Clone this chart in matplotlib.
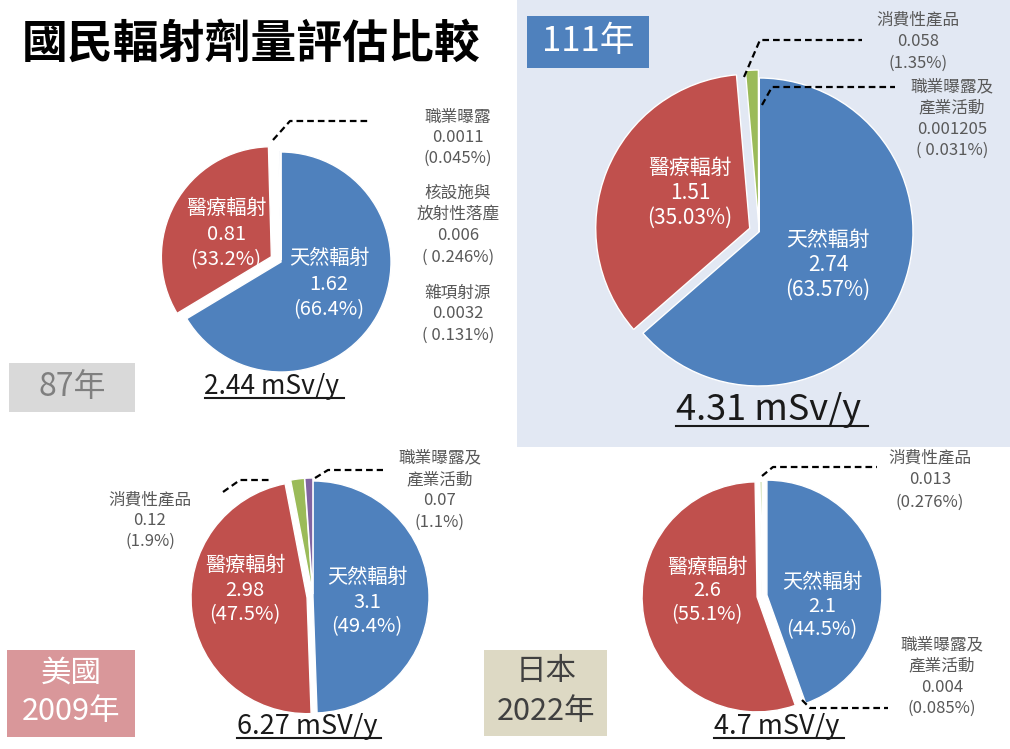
import matplotlib
matplotlib.use("Agg")
import matplotlib.pyplot as plt
from matplotlib.patches import Rectangle

plt.rcParams['font.family'] = ['Noto Sans CJK TC', 'DejaVu Sans']

W, H = 1010, 749

# data ------------------------------------------------------------
title = "國民輻射劑量評估比較"

# 87年 (Taiwan)
tw87_names = ["天然輻射", "醫療輻射", "職業曝露", "核設施與\n放射性落塵", "雜項射源"]
tw87_values = [1.62, 0.81, 0.0011, 0.006, 0.0032]
tw87_pcts = ["66.4%", "33.2%", "0.045%", " 0.246%", " 0.131%"]
tw87_total = "2.44 mSv/y"

# 111年 (Taiwan)
tw111_names = ["天然輻射", "醫療輻射", "消費性產品", "職業曝露及\n產業活動"]
tw111_values = [2.74, 1.51, 0.058, 0.001205]
tw111_pcts = ["63.57%", "35.03%", "1.35%", " 0.031%"]
tw111_total = "4.31 mSv/y"

# 美國 2009
us_names = ["天然輻射", "醫療輻射", "消費性產品", "職業曝露及\n產業活動"]
us_values = [3.1, 2.98, 0.12, 0.07]
us_pcts = ["49.4%", "47.5%", "1.9%", "1.1%"]
us_total = "6.27 mSV/y"

# 日本 2022
jp_names = ["天然輻射", "職業曝露及\n產業活動", "醫療輻射", "消費性產品"]
jp_values = [2.1, 0.004, 2.6, 0.013]
jp_pcts = ["44.5%", "0.085%", "55.1%", "0.276%"]
jp_total = "4.7 mSV/y"

BLUE = "#4f81bd"
RED = "#c0504d"
GREEN = "#9bbb59"
PURPLE = "#8064a2"
GRAY_TXT = "#595959"

fig = plt.figure(figsize=(W / 100, H / 100), dpi=100)
ax = fig.add_axes([0, 0, 1, 1])
ax.set_xlim(0, W)
ax.set_ylim(0, H)
ax.axis("off")


def Y(y):
    return H - y


def box(x0, y0, x1, y1, color, z=0):
    ax.add_patch(Rectangle((x0, Y(y1)), x1 - x0, y1 - y0, facecolor=color,
                           edgecolor="none", zorder=z))


def lines(x, y, rows, dy, size, color, weight="normal"):
    for i, r in enumerate(rows):
        ax.text(x, Y(y + i * dy), r, ha="center", va="center", fontsize=size,
                color=color, fontweight=weight, zorder=5)


def leader(pts):
    xs = [p[0] for p in pts]
    ys = [Y(p[1]) for p in pts]
    ax.plot(xs, ys, color="black", lw=1.6, linestyle=(0, (3, 1.8)), zorder=6)


def pie(values, colors, cx, cy, r, explode):
    # explode given in pixels (pie offsets are absolute data units)
    ax.pie(values, colors=colors, center=(cx, Y(cy)), radius=r,
           startangle=90, counterclock=False, explode=explode, frame=True,
           wedgeprops=dict(edgecolor="white", linewidth=1))


def total_label(x, y, s, size):
    t = ax.text(x, Y(y), s, ha="center", va="center", fontsize=size,
                color="#1a1a1a", zorder=5)
    return t


# background panel for 111年
box(517, 0, W, 447, "#e2e8f3")

# title
ax.text(22, Y(45), title, ha="left", va="center", fontsize=33,
        fontweight="bold", color="black")

# ---- 87年 ----
pie(tw87_values, [BLUE, RED, "#aab9d6", "#c3cde2", "#9fb0d0"], 281, 262, 110,
    [0, 11, 2, 2, 2])
lines(226, 208, [tw87_names[1], "0.81", f"({tw87_pcts[1]})"], 26, 14.5, "white")
lines(329, 258, [tw87_names[0], "1.62", f"({tw87_pcts[0]})"], 26, 14.5, "white")
leader([(273, 140), (290, 121), (370, 121)])
lines(458, 117, [tw87_names[2], "0.0011", f"({tw87_pcts[2]})"], 20.5, 12, GRAY_TXT)
lines(458, 193, tw87_names[3].split("\n") + ["0.006", f"({tw87_pcts[3]})"], 21.5, 12, GRAY_TXT)
lines(458, 293, [tw87_names[4], "0.0032", f"({tw87_pcts[4]})"], 21, 12, GRAY_TXT)
box(9, 363, 135, 412, "#d9d9d9")
ax.text(72, Y(387), "87年", ha="center", va="center", fontsize=23, color="#7f7f7f")
t87 = total_label(272, 386, tw87_total, 19)

# ---- 111年 ----
pie(tw111_values, [BLUE, RED, GREEN, PURPLE], 759, 232, 154,
    [0, 10, 8, 0])
lines(690, 168, [tw111_names[1], "1.51", f"({tw111_pcts[1]})"], 25, 15, "white")
lines(828, 240, [tw111_names[0], "2.74", f"({tw111_pcts[0]})"], 25, 15, "white")
leader([(744, 77), (760, 40), (862, 40)])
leader([(762, 105), (772, 87), (895, 87)])
lines(918, 20, [tw111_names[2], "0.058", f"({tw111_pcts[2]})"], 21.5, 12, GRAY_TXT)
lines(952, 87, tw111_names[3].split("\n") + ["0.001205", f"({tw111_pcts[3]})"], 21, 12, GRAY_TXT)
box(527, 16, 649, 68, BLUE)
ax.text(588, Y(42), "111年", ha="center", va="center", fontsize=25, color="white")
t111 = total_label(769, 410, tw111_total, 26)

# ---- 美國 2009 ----
pie(us_values, [BLUE, RED, GREEN, PURPLE], 313, 597, 116,
    [0, 6, 3, 3])
lines(245, 565, [us_names[1], "2.98", f"({us_pcts[1]})"], 25, 14.5, "white")
lines(367, 577, [us_names[0], "3.1", f"({us_pcts[0]})"], 25, 14.5, "white")
leader([(223, 492), (240, 480), (270, 480)])
leader([(315, 478), (328, 470), (383, 470)])
lines(150, 500, [us_names[2], "0.12", f"({us_pcts[2]})"], 20.5, 12, GRAY_TXT)
lines(440, 458, us_names[3].split("\n") + ["0.07", f"({us_pcts[3]})"], 21.3, 12, GRAY_TXT)
box(7, 650, 135, 737, "#d9979a")
ax.text(71, Y(673), "美國", ha="center", va="center", fontsize=22, color="white")
ax.text(71, Y(712), "2009年", ha="center", va="center", fontsize=22, color="white")
tus = total_label(307, 726, us_total, 19.5)

# ---- 日本 2022 ----
pie(jp_values, [BLUE, PURPLE, RED, GREEN], 762, 596, 115,
    [5, 0, 5, 0])
lines(707, 567, [jp_names[2], "2.6", f"({jp_pcts[2]})"], 24, 14.5, "white")
lines(822, 582, [jp_names[0], "2.1", f"({jp_pcts[0]})"], 24, 14.5, "white")
leader([(762, 476), (773, 467), (877, 467)])
leader([(802, 700), (810, 708), (888, 708)])
lines(930, 458, [jp_names[3], "0.013", f"({jp_pcts[3]})"], 22, 12, GRAY_TXT)
lines(942, 645, jp_names[1].split("\n") + ["0.004", f"({jp_pcts[1]})"], 21, 12, GRAY_TXT)
box(484, 650, 607, 736, "#ddd9c4")
ax.text(546, Y(672), "日本", ha="center", va="center", fontsize=22, color="#404040")
ax.text(546, Y(712), "2022年", ha="center", va="center", fontsize=22, color="#404040")
tjp = total_label(777, 726, jp_total, 19.5)

ax.set_xlim(0, W)
ax.set_ylim(0, H)
ax.set_aspect("auto")

# underline the totals
fig.canvas.draw()
inv = ax.transData.inverted()
for t, extra in [(t87, 4), (t111, 6), (tus, 4), (tjp, 4)]:
    bb = t.get_window_extent()
    (x0, y0), (x1, _) = inv.transform([(bb.x0, bb.y0), (bb.x1, bb.y1)])
    ax.plot([x0, x1 + extra], [y0 + 2, y0 + 2], color="#1a1a1a", lw=1.5, zorder=5)

fig.savefig("out.png", dpi=100)
